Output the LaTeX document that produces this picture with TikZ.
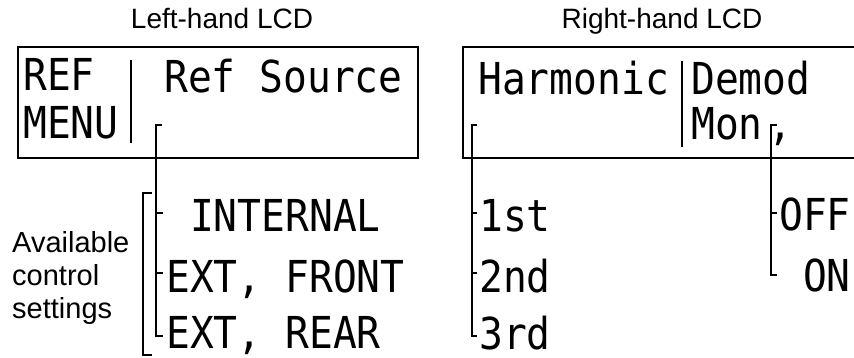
\documentclass[tikz,border=0pt]{standalone}
\usepackage{fontspec}
\setmainfont{Liberation Sans}
\newfontfamily\lcdfont[FakeStretch=0.9]{DejaVu Sans Mono}
\tikzset{
  lcd/.style={font=\lcdfont\fontsize{44}{50}\selectfont, anchor=base west, inner sep=0pt, text depth=0pt},
  label/.style={font=\fontsize{28}{33}\selectfont, inner sep=0pt},
  frame/.style={line width=1.6pt},
  brk/.style={line width=1.6pt}
}
\begin{document}
\begin{tikzpicture}[x=1pt,y=-1pt]
\useasboundingbox (0,0) rectangle (854,358);
% titles
\node[label, anchor=base] (tl) at (222,29) {Left-hand LCD};
\node[label, anchor=base] (tr) at (662,29) {Right-hand LCD};
% left LCD
\draw[frame] (18,47) rectangle (418,158);
\draw[frame] (131,60) -- (131,143);
\node[lcd] (ref) at (23,91) {REF};
\node[lcd] (menu) at (23,139) {MENU};
\node[lcd] (refsrc) at (164,93) {Ref Source};
% right LCD (cut at right edge)
\draw[frame] (856,47) -- (463,47) -- (463,158) -- (856,158);
\draw[frame] (682,61) -- (682,147);
\node[lcd] (harm) at (478,95) {Harmonic};
\node[lcd] (demod) at (691,95) {Demod};
\node[lcd] (mon) at (691,140) {Mon\kern6pt,};
% options left
\node[lcd] (int) at (166,232) {\ INTERNAL};
\node[lcd] (front) at (166,292) {EXT, FRONT};
\node[lcd] (rear) at (166,348) {EXT, REAR};
% options right
\node[lcd] (h1) at (479,232) {1st};
\node[lcd] (h2) at (479,292) {2nd};
\node[lcd] (h3) at (479,349) {3rd};
\node[lcd] (off) at (779,231) {OFF};
\node[lcd] (on) at (779,291) {\ ON};
% available label
\node[label, font=\fontsize{29}{33}\selectfont, anchor=base west] (av1) at (12,252) {Available};
\node[label, font=\fontsize{29}{33}\selectfont, anchor=base west] (av2) at (12,285) {control};
\node[label, font=\fontsize{29}{33}\selectfont, anchor=base west] (av3) at (12,318) {settings};
% coordinates for brackets
\coordinate (a0) at (162,125); \coordinate (a1) at (156,125);
\coordinate (a2) at (156,336); \coordinate (a3) at (163,336);
\coordinate (b0) at (477,125); \coordinate (b1) at (472,125);
\coordinate (b2) at (472,336); \coordinate (b3) at (477,336);
\coordinate (c0) at (777,125); \coordinate (c1) at (771,125);
\coordinate (c2) at (771,275); \coordinate (c3) at (777,275);
\coordinate (d0) at (152,193); \coordinate (d1) at (143,193);
\coordinate (d2) at (143,355); \coordinate (d3) at (152,355);
\draw[brk] (a0) -- (a1) -- (a2) -- (a3);
\draw[brk] ([yshift=19pt]a1 |- int.base) -- ++(7,0);
\draw[brk] ([yshift=19pt]a1 |- front.base) -- ++(7,0);
\draw[brk] (b0) -- (b1) -- (b2) -- (b3);
\draw[brk] ([yshift=19pt]b1 |- h1.base) -- ++(5,0);
\draw[brk] ([yshift=19pt]b1 |- h2.base) -- ++(5,0);
\draw[brk] (c0) -- (c1) -- (c2) -- (c3);
\draw[brk] ([yshift=18pt]c1 |- off.base) -- ++(6,0);
\draw[brk] (d0) -- (d1) -- (d2) -- (d3);
\end{tikzpicture}
\end{document}
